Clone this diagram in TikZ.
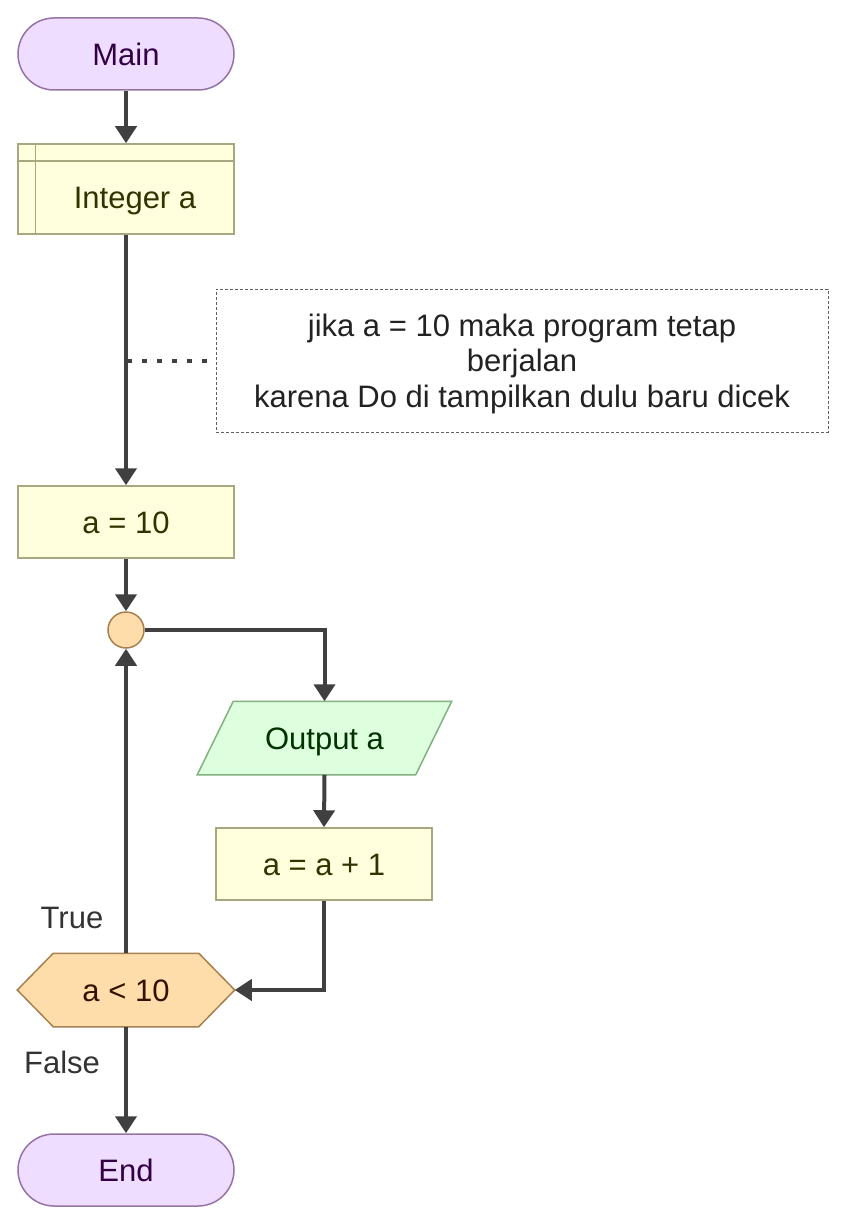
\documentclass[tikz,border=0pt]{standalone}
\usepackage{fontspec}
\setmainfont{Liberation Sans}
\usetikzlibrary{arrows.meta,backgrounds,calc}
\definecolor{lineC}{HTML}{404040}
\definecolor{termF}{HTML}{EEDDFF}
\definecolor{termB}{HTML}{9673A6}
\definecolor{termT}{HTML}{330044}
\definecolor{procF}{HTML}{FFFFDD}
\definecolor{procB}{HTML}{A8A880}
\definecolor{procT}{HTML}{333300}
\definecolor{ioF}{HTML}{DDFFDD}
\definecolor{ioB}{HTML}{82B07F}
\definecolor{ioT}{HTML}{003300}
\definecolor{juncF}{HTML}{FFDDAA}
\definecolor{juncB}{HTML}{A58050}
\definecolor{juncT}{HTML}{331100}
\definecolor{noteB}{HTML}{606060}
\definecolor{noteT}{HTML}{222222}
\definecolor{lblT}{HTML}{333333}
\begin{document}
\begin{tikzpicture}[x=1pt,y=-1pt,
  base/.style={font=\fontsize{31}{36}\selectfont, line width=1.5pt, inner sep=0pt, text height=22.2pt, text depth=0pt},
  terminal/.style={base, rounded corners=36pt, draw=termB, fill=termF, text=termT, minimum width=216pt, minimum height=72pt},
  procbox/.style={base, draw=procB, fill=procF, text=procT, minimum width=216pt, minimum height=72pt},
  junction/.style={base, circle, draw=juncB, fill=juncF, minimum size=36pt, text height=0pt},
  shapebg/.style={line width=1.5pt},
  lbl/.style={font=\fontsize{31}{36}\selectfont, text=lblT, inner sep=0pt, text height=22.2pt, text depth=0pt},
  notebox/.style={draw=noteB, line width=1pt, dash pattern=on 3pt off 2pt, minimum width=612pt, minimum height=143pt, inner sep=0pt},
  notetext/.style={align=center, text=noteT, inner sep=0pt, font=\fontsize{31}{35.5}\selectfont},
  conn/.style={line width=4pt, draw=lineC, -{Triangle[width=21pt,length=17pt]}},
  dotconn/.style={line width=4pt, draw=lineC, dash pattern=on 5pt off 10pt}
]
\useasboundingbox (0,0) rectangle (847,1225);

\node[terminal] (main) at (126,54) {Main};

\node[procbox, minimum height=90pt] (int) at (126,189) {};
\draw[procB, line width=1.5pt] ([xshift=18pt]int.north west) -- ([xshift=18pt]int.south west);
\draw[procB, line width=1.5pt] ([yshift=-18pt]int.north west) -- ([yshift=-18pt]int.north east);
\node[lbl, text=procT] (intlabel) at (135,197.5) {Integer a};

\node[notebox] (note) at (522,360.5) {};
\node[notetext] (notetxt) at (522,363.5) {jika a = 10 maka program tetap\\berjalan\\karena Do di tampilkan dulu baru dicek};

\node[procbox] (a10) at (126,522) {a = 10};
\node[junction] (circ) at (126,630) {};

\node[base, minimum width=217pt, minimum height=72pt, text=ioT] (out) at (324.5,738) {Output a};
\begin{scope}[on background layer]
\filldraw[shapebg, draw=ioB, fill=ioF] ([xshift=18pt]out.north west) -- ([xshift=18pt]out.north east) -- ([xshift=-18pt]out.south east) -- ([xshift=-18pt]out.south west) -- cycle;
\end{scope}

\node[procbox] (inc) at (324,864) {a = a + 1};

\node[base, minimum width=216pt, minimum height=72pt, text=juncT] (dec) at (126,990) {a < 10};
\begin{scope}[on background layer]
\filldraw[shapebg, draw=juncB, fill=juncF] (dec.west) -- ([xshift=36pt]dec.north west) -- ([xshift=-36pt]dec.north east) -- (dec.east) -- ([xshift=-36pt]dec.south east) -- ([xshift=36pt]dec.south west) -- cycle;
\end{scope}

\node[terminal] (end) at (126,1170) {End};

\node[lbl] (truelbl) at (72,917.5) {True};
\node[lbl] (falselbl) at (62,1062) {False};

\coordinate (dotstart) at ([xshift=1pt]int.south |- note.west);
\draw[conn] (main.south) -- (int.north);
\draw[conn] (int.south) -- (a10.north);
\draw[dotconn] (dotstart) -- (note.west);
\draw[conn] (a10.south) -- (circ.north);
\draw[conn] (circ.east) -| (out.north);
\draw[conn] (out.south) -- (inc.north);
\draw[conn] (inc.south) |- (dec.east);
\draw[conn] (dec.north) -- (circ.south);
\draw[conn] (dec.south) -- (end.north);
\end{tikzpicture}
\end{document}
